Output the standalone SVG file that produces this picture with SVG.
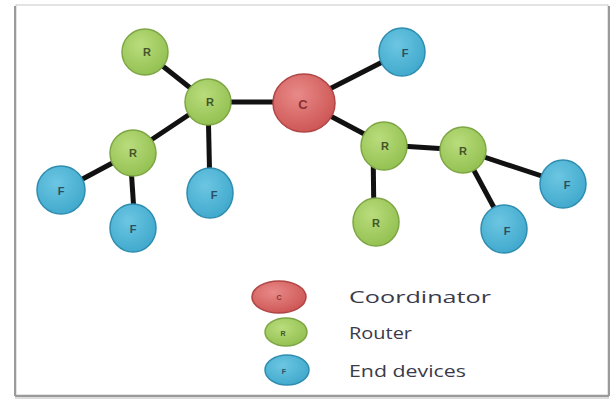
<svg xmlns="http://www.w3.org/2000/svg" width="613" height="401" viewBox="0 0 613 401">
<defs>
<radialGradient id="gc" cx="0.4" cy="0.35" r="0.7"><stop offset="0" stop-color="#e88a88"/><stop offset="1" stop-color="#cc5453"/></radialGradient>
<radialGradient id="gr" cx="0.4" cy="0.35" r="0.7"><stop offset="0" stop-color="#b9dc7c"/><stop offset="1" stop-color="#92c050"/></radialGradient>
<radialGradient id="gf" cx="0.4" cy="0.35" r="0.7"><stop offset="0" stop-color="#6cc6e2"/><stop offset="1" stop-color="#3fa8cc"/></radialGradient>
</defs>
<style>
.c{fill:url(#gc);stroke:#b04545;stroke-width:1.5}
.r{fill:url(#gr);stroke:#7ea645;stroke-width:1.5}
.f{fill:url(#gf);stroke:#2f8db0;stroke-width:1.5}
.lt{font-family:"Liberation Sans",Arial,sans-serif;font-size:11px;font-weight:bold;text-anchor:middle;dominant-baseline:central}
.lc{fill:#8a3030}
.lr{fill:#44552a}
.lf{fill:#2a4f60}
.edge{stroke:#111;stroke-width:5;stroke-linecap:butt}
.leg{font-family:"Open Sans","DejaVu Sans",sans-serif;font-size:17px;fill:#3a3a4a}
</style>
<rect x="16" y="5" width="592" height="390" fill="#fff" stroke="#c8c8c8" stroke-width="1"/>
<line x1="15" y1="6" x2="15" y2="396" stroke="#9a9a9a" stroke-width="2"/>
<line x1="15" y1="396" x2="609" y2="396" stroke="#9a9a9a" stroke-width="2"/>
<line x1="609" y1="6" x2="609" y2="396" stroke="#9a9a9a" stroke-width="2"/>
<line x1="15" y1="398" x2="609" y2="398" stroke="#dcdcdc" stroke-width="2"/>
<g id="connectors">
<line class="edge" x1="145" y1="52" x2="208" y2="102"/>
<line class="edge" x1="208" y1="102" x2="304" y2="102"/>
<line class="edge" x1="208" y1="102" x2="133" y2="152"/>
<line class="edge" x1="208" y1="102" x2="210" y2="192"/>
<line class="edge" x1="133" y1="152" x2="62" y2="190"/>
<line class="edge" x1="130" y1="152" x2="135" y2="227"/>
<line class="edge" x1="304" y1="102" x2="402" y2="52"/>
<line class="edge" x1="304" y1="102" x2="385" y2="145"/>
<line class="edge" x1="385" y1="145" x2="463" y2="150"/>
<line class="edge" x1="373" y1="145" x2="374" y2="222"/>
<line class="edge" x1="463" y1="150" x2="563" y2="183"/>
<line class="edge" x1="463" y1="150" x2="505" y2="228"/>
</g>
<g id="r1"><ellipse class="r" cx="145" cy="52" rx="23" ry="23"/><text class="lt lr" x="147" y="52">R</text></g>
<g id="r2"><ellipse class="r" cx="208" cy="102" rx="23" ry="23"/><text class="lt lr" x="210" y="102">R</text></g>
<g id="f1"><ellipse class="f" cx="402" cy="52" rx="23" ry="24"/><text class="lt lf" x="405" y="53">F</text></g>
<g id="r3"><ellipse class="r" cx="133" cy="153" rx="23" ry="23"/><text class="lt lr" x="133" y="153">R</text></g>
<g id="f2"><ellipse class="f" cx="61" cy="190" rx="24" ry="24"/><text class="lt lf" x="61" y="191">F</text></g>
<g id="f3"><ellipse class="f" cx="133" cy="228" rx="23" ry="24"/><text class="lt lf" x="133" y="229">F</text></g>
<g id="f4"><ellipse class="f" cx="210" cy="193" rx="23" ry="25"/><text class="lt lf" x="214" y="195">F</text></g>
<g id="c"><ellipse class="c" cx="304" cy="103" rx="31" ry="29"/><text class="lt lc" x="303" y="104" style="font-size:13px">C</text></g>
<g id="r4"><ellipse class="r" cx="384" cy="146" rx="23" ry="24"/><text class="lt lr" x="385" y="146">R</text></g>
<g id="r5"><ellipse class="r" cx="463" cy="150" rx="23" ry="23"/><text class="lt lr" x="463" y="151">R</text></g>
<g id="r6"><ellipse class="r" cx="376" cy="222" rx="23" ry="24"/><text class="lt lr" x="376" y="223">R</text></g>
<g id="f5"><ellipse class="f" cx="504" cy="229" rx="23" ry="24"/><text class="lt lf" x="507" y="231">F</text></g>
<g id="f6"><ellipse class="f" cx="563" cy="184" rx="23" ry="24"/><text class="lt lf" x="567" y="185">F</text></g>
<g id="legend">
<ellipse class="c" cx="279" cy="297" rx="27" ry="16"/><text class="lt lc" x="279" y="297" style="font-size:7px">C</text>
<ellipse class="r" cx="286" cy="332" rx="21" ry="14"/><text class="lt lr" x="283" y="333" style="font-size:7px">R</text>
<ellipse class="f" cx="287" cy="370" rx="22" ry="15"/><text class="lt lf" x="284" y="371" style="font-size:7px">F</text>
<text class="leg" x="349" y="303" textLength="142" lengthAdjust="spacingAndGlyphs">Coordinator</text>
<text class="leg" x="349" y="339" textLength="63" lengthAdjust="spacingAndGlyphs">Router</text>
<text class="leg" x="349" y="377" textLength="117" lengthAdjust="spacingAndGlyphs">End devices</text>
</g>
</svg>
